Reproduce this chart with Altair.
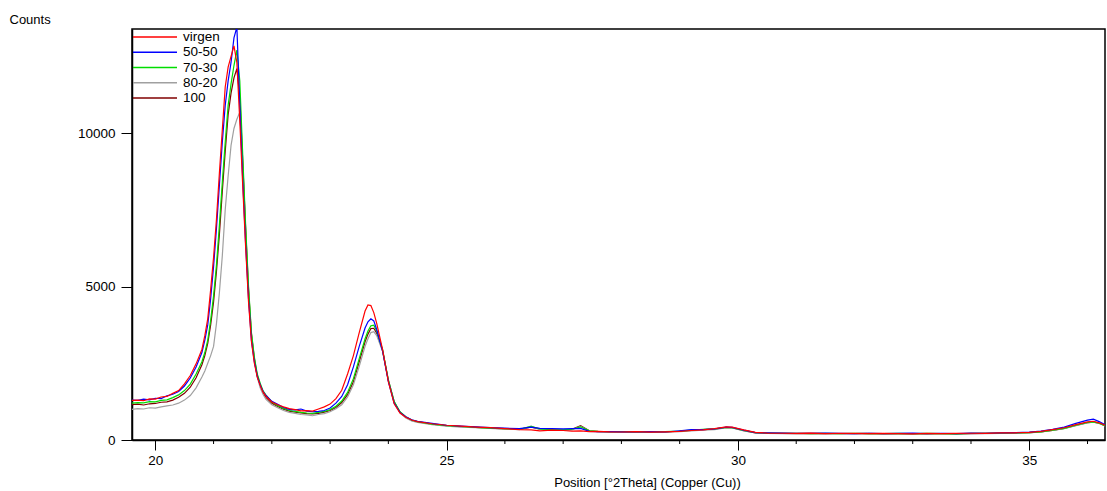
import altair as alt
import pandas as pd

# 2Theta positions (shared by all series)
pos = [19.6, 19.7, 19.8, 19.9, 20.0, 20.1, 20.2, 20.3, 20.4, 20.5, 20.6, 20.7, 20.8,
       20.85, 20.9, 20.95, 21.0, 21.05, 21.1, 21.15, 21.2, 21.25, 21.3, 21.35, 21.4, 21.45,
       21.5, 21.55, 21.6, 21.65, 21.7, 21.75, 21.8, 21.85, 21.9,
       22.0, 22.1, 22.2, 22.3, 22.4, 22.5, 22.6, 22.7, 22.8, 22.9, 23.0, 23.1, 23.2, 23.3,
       23.4, 23.5, 23.6, 23.65, 23.7, 23.75, 23.8, 23.9, 24.0, 24.1, 24.2, 24.3, 24.4,
       24.5, 24.75, 25.0, 25.25, 25.5, 25.75, 26.0, 26.25, 26.45, 26.6, 26.8, 27.0, 27.15,
       27.3, 27.45, 27.6, 27.8, 28.0, 28.25, 28.5, 28.75, 29.0, 29.2, 29.4, 29.6, 29.8, 29.9,
       30.1, 30.3, 30.5, 30.75, 31.0, 31.25, 31.5, 31.75, 32.0, 32.25, 32.5, 32.75, 33.0,
       33.25, 33.5, 33.75, 34.0, 34.25, 34.5, 34.75, 35.0, 35.2, 35.4, 35.6, 35.8, 36.0,
       36.1, 36.2, 36.3]

virgen = [1290, 1300, 1280, 1340, 1330, 1400, 1420, 1520, 1610, 1830, 2100, 2480, 2950,
          3400, 3950, 4900, 5950, 7200, 8700, 10100, 11500, 12150, 12500, 12840, 12300, 10400,
          8300, 6300, 4500, 3200, 2500, 2050, 1780, 1560, 1420,
          1240, 1150, 1080, 1020, 990, 950, 960, 940, 1010, 1080, 1170, 1350, 1620, 2150,
          2750, 3500, 4200, 4400, 4380, 4150, 3800, 2950, 1900, 1180, 880, 740, 650,
          600, 530, 480, 450, 420, 400, 370, 340, 330, 300, 320, 310, 290,
          300, 270, 280, 265, 260, 270, 255, 265, 280, 310, 330, 370, 430, 420,
          330, 250, 225, 220, 215, 225, 210, 220, 215, 205, 215, 210, 200,
          215, 205, 215, 220, 215, 230, 235, 250, 280, 340, 400, 500, 590,
          610, 560, 480]

s50_50 = [1300, 1290, 1330, 1310, 1360, 1350, 1440, 1490, 1580, 1760, 2020, 2380, 2850,
          3250, 3750, 4600, 5650, 6900, 8300, 9700, 10900, 11700, 12300, 13100, 13450, 10900,
          8500, 6400, 4600, 3250, 2550, 2080, 1800, 1580, 1450,
          1260, 1160, 1060, 1000, 980, 1010, 940, 920, 930, 960, 1040, 1200, 1420, 1800,
          2380, 3050, 3650, 3850, 3950, 3880, 3600, 2900, 1900, 1200, 900, 760, 660,
          610, 540, 480, 455, 430, 400, 385, 370, 420, 380, 370, 365, 370,
          380, 280, 275, 270, 265, 260, 270, 260, 300, 340, 335, 360, 420, 410,
          320, 240, 230, 225, 220, 215, 225, 215, 210, 220, 210, 215, 225,
          210, 220, 210, 225, 220, 235, 240, 255, 290, 350, 420, 540, 650,
          680, 600, 500]

s70_30 = [1200, 1220, 1210, 1250, 1240, 1290, 1310, 1380, 1470, 1610, 1820, 2150, 2550,
          2850, 3250, 3900, 4700, 5700, 7000, 8400, 9700, 10900, 11600, 12200, 12700, 11700,
          9300, 7000, 5000, 3500, 2700, 2150, 1850, 1600, 1460,
          1240, 1120, 1030, 960, 930, 900, 880, 870, 900, 930, 990, 1100, 1270, 1550,
          2000, 2650, 3300, 3550, 3720, 3740, 3550, 2950, 1950, 1250, 920, 760, 650,
          600, 520, 470, 440, 410, 390, 370, 350, 440, 360, 340, 330, 350,
          430, 300, 280, 270, 270, 260, 265, 270, 290, 320, 350, 365, 410, 400,
          310, 240, 225, 215, 220, 210, 215, 210, 220, 210, 205, 215, 205,
          215, 210, 200, 215, 220, 225, 230, 240, 265, 320, 380, 480, 570,
          590, 550, 470]

s80_20 = [1000, 1020, 1010, 1050, 1040, 1080, 1110, 1140, 1200, 1300, 1450, 1700, 2050,
          2250, 2500, 2750, 3050, 3800, 4800, 6000, 7500, 8600, 9600, 10150, 10450, 10680,
          9000, 6800, 4800, 3400, 2600, 2050, 1700, 1480, 1320,
          1150, 1050, 960, 900, 870, 830, 820, 790, 830, 860, 920, 1020, 1150, 1400,
          1800, 2400, 3050, 3300, 3500, 3530, 3400, 2900, 1950, 1250, 880, 720, 620,
          570, 500, 450, 420, 400, 375, 355, 340, 450, 350, 330, 320, 330,
          440, 290, 270, 260, 255, 250, 255, 260, 275, 300, 320, 340, 400, 390,
          300, 230, 215, 210, 205, 210, 200, 205, 200, 210, 200, 205, 195,
          205, 200, 195, 205, 210, 215, 225, 235, 260, 310, 370, 470, 560,
          580, 540, 460]

s100 = [1150, 1170, 1140, 1180, 1190, 1230, 1240, 1300, 1390, 1520, 1720, 2030, 2450,
        2750, 3150, 3750, 4500, 5500, 6700, 8100, 9400, 10600, 11300, 11800, 12100, 11200,
        9100, 6900, 4900, 3450, 2650, 2100, 1780, 1540, 1390,
        1200, 1090, 1000, 940, 910, 880, 860, 850, 870, 910, 960, 1060, 1220, 1480,
        1900, 2550, 3200, 3450, 3630, 3640, 3480, 2920, 1950, 1240, 900, 740, 640,
        590, 515, 465, 435, 410, 385, 365, 345, 420, 355, 335, 325, 345,
        470, 300, 275, 265, 260, 255, 260, 265, 285, 310, 335, 355, 410, 400,
        305, 235, 220, 215, 210, 215, 205, 210, 205, 215, 205, 210, 200,
        210, 205, 200, 210, 215, 220, 230, 240, 265, 315, 375, 475, 565,
        585, 545, 465]

legend_order = ["virgen", "50-50", "70-30", "80-20", "100"]
line_colors = ["#ff0000", "#0000ff", "#00dd00", "#a0a0a0", "#800000"]
draw_order = ["100", "80-20", "70-30", "50-50", "virgen"]

x_major = [20, 25, 30, 35]
x_minor = [21, 22, 23, 24, 26, 27, 28, 29, 31, 32, 33, 34, 36]
y_ticks = [0, 5000, 10000]

series = {"virgen": virgen, "50-50": s50_50, "70-30": s70_30, "80-20": s80_20, "100": s100}
rows = []
for name, ys in series.items():
    for xv, yv in zip(pos, ys):
        rows.append({"pos": xv, "counts": yv, "serie": name})
df = pd.DataFrame(rows)
minor_df = pd.DataFrame({"pos": x_minor})
legend_df = pd.DataFrame({"serie": legend_order})

FONT = "Liberation Sans"

x_scale = alt.Scale(domain=[19.6, 36.3], nice=False, zero=False)
y_scale = alt.Scale(domain=[0, 13390], nice=False, zero=True)
color_scale = alt.Scale(domain=legend_order, range=line_colors)

x_axis = alt.Axis(values=x_major, tickSize=10, labelPadding=3, labelFontSize=13.5,
                  title="Position [°2Theta] (Copper (Cu))", titleX=515, titleY=42,
                  titleAlign="center", titleBaseline="middle", titleFontSize=13,
                  titleFontWeight="normal", labelFlush=False, labelOverlap=False, grid=False)
y_axis = alt.Axis(values=y_ticks, tickSize=11, labelPadding=6, labelFontSize=13.5, format="d",
                  title="Counts", titleAngle=0, titleX=-123, titleY=-10, titleAlign="left",
                  titleBaseline="middle", titleFontSize=13, titleFontWeight="normal", grid=False)

x_enc = alt.X("pos:Q", scale=x_scale, axis=x_axis)
y_enc = alt.Y("counts:Q", scale=y_scale, axis=y_axis)
color_enc = alt.Color("serie:N", scale=color_scale, legend=None)

layers = []
for name in draw_order:
    layers.append(
        alt.Chart(df).transform_filter(alt.datum.serie == name)
        .mark_line(strokeWidth=1.2, clip=True)
        .encode(x=x_enc, y=y_enc, color=color_enc)
    )
data_layers = alt.layer(*layers)

minor_ticks = alt.Chart(minor_df).mark_rule(color="black", strokeWidth=1).encode(
    x=x_enc, y=alt.value(411), y2=alt.value(415)
)

# legend drawn inside the plot, top-left
leg_y = alt.Y("serie:N", sort=legend_order,
              scale=alt.Scale(type="point", range=[8, 69], padding=0), axis=None)
legend_lines = alt.Chart(legend_df).mark_rule(strokeWidth=1.4).encode(
    x=alt.value(1), x2=alt.value(45), y=leg_y, color=color_enc
)
legend_text = alt.Chart(legend_df).mark_text(
    align="left", baseline="middle", font=FONT, fontSize=13.5, color="black"
).encode(x=alt.value(51), y=leg_y, text="serie:N")
legend_layer = alt.layer(legend_lines, legend_text)

chart = alt.layer(data_layers, minor_ticks, legend_layer).resolve_scale(
    y="independent"
).properties(
    width=973, height=411,
    autosize=alt.AutoSizeParams(type="none"),
    padding={"left": 132, "top": 29, "right": 2, "bottom": 51},
    background="white",
).configure_view(
    stroke="black", strokeWidth=1.5
).configure_axis(
    domainColor="black", domainWidth=1.5, tickColor="black", tickWidth=1,
    labelColor="black", titleColor="black", labelFont=FONT, titleFont=FONT
)

chart.save("out.html", embed_options={"renderer": "svg", "actions": False})
